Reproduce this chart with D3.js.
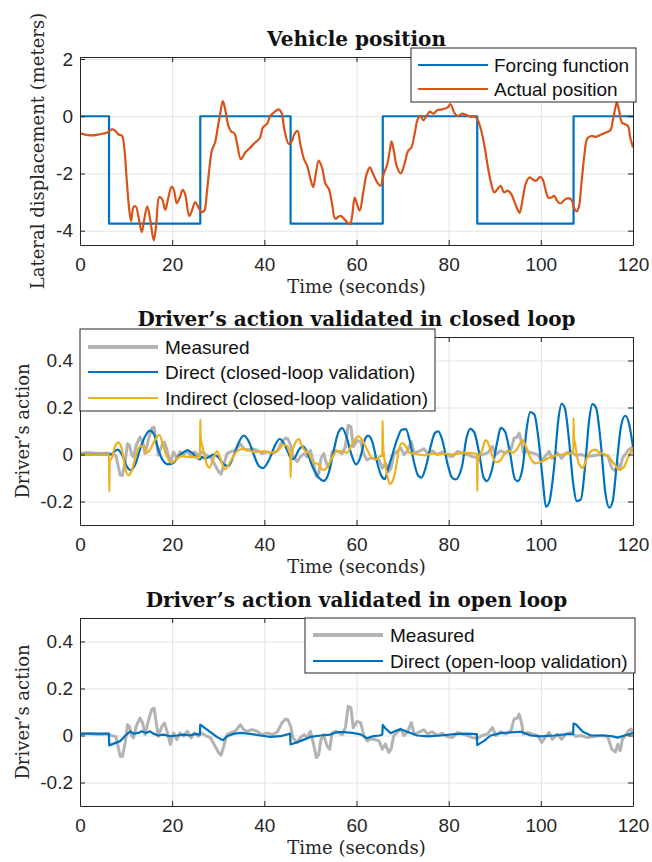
<!DOCTYPE html>
<html lang="en">
<head>
<meta charset="UTF-8">
<title>Vehicle position and driver's action</title>
<style>
  *{margin:0;padding:0;}
  body{background:#fff;}
  svg{display:block;}
  .frame .tick text{font-family:"Liberation Sans",Arial,sans-serif;font-size:19px;fill:#262626;}
  .frame path,.frame line{stroke:#262626;}
  .grid line{stroke:#e2e2e2;}
  .grid path{display:none;}
  .title{font-family:"DejaVu Serif",serif;font-weight:bold;font-size:20px;fill:#111;}
  .label{font-family:"DejaVu Serif",serif;font-size:18px;fill:#262626;}
  .legend text{font-family:"Liberation Sans",Arial,sans-serif;font-size:19px;fill:#111;}
</style>
</head>
<body>
<div id="container"></div>
<script src="https://cdn.jsdelivr.net/npm/d3@7"></script>
<script>
// ---- data ----
var timeTicks = [0, 20, 40, 60, 80, 100, 120]
var posTicks = [-4, -2, 0, 2]
var actionTicks = [-0.2, 0, 0.2, 0.4]

// forcing function (step changes)
var forceT = [0, 6.3, 26.1, 45.7, 65.7, 86.2, 107.1, 120]
var forceV = [0, -3.75, 0, -3.75, 0, -3.75, 0, 0]

// actual lateral position
var posT = [0,2.2,4.3,5.8,6.9,7.6,8.3,9.1,9.6,10.1,10.7,11.1,11.6,12.1,12.7,13.4,13.9,14.6,15.2,16.0,16.5,17.2,17.8,18.5,19.1,19.9,20.4,21.0,21.7,22.3,22.8,23.7,24.3,25.0,25.7,26.4,27.0,27.5,28.1,28.6,29.3,29.9,30.4,31.0,31.5,32.2,32.8,33.5,34.1,34.9,35.9,37.0,38.0,39.0,39.7,40.6,41.3,42.2,43.1,43.7,44.4,45.3,46.0,46.5,47.2,47.8,48.6,49.3,50.0,50.6,51.1,51.8,52.5,53.3,54.0,54.7,55.4,56.5,58.0,58.6,59.1,59.6,60.1,60.7,61.4,62.2,62.9,63.6,64.5,65.2,65.9,66.7,67.2,67.6,68.1,68.8,69.6,70.4,71.2,71.9,72.6,73.3,73.9,74.5,75.2,75.9,76.7,77.5,78.6,79.7,80.4,81.2,81.9,83.0,83.7,84.8,85.5,86.2,86.9,87.7,88.4,89.1,89.9,90.6,91.3,92.0,92.8,93.5,94.2,94.9,95.4,96.0,96.7,97.5,98.2,98.9,99.9,100.4,100.9,101.6,102.3,102.9,103.5,104.2,105.1,105.9,106.7,107.2,107.8,108.3,108.8,109.4,110.1,111.0,111.9,113.0,114.1,115.1,115.6,116.1,116.5,117.0,117.6,118.3,118.9,119.4,120]
var posV = [-0.60,-0.67,-0.63,-0.58,-0.46,-0.50,-0.63,-0.68,-1.09,-2.13,-3.29,-3.66,-3.18,-3.15,-3.52,-4.05,-3.64,-3.15,-3.58,-4.34,-3.87,-2.83,-2.89,-3.27,-2.89,-2.46,-2.60,-3.04,-2.83,-2.57,-2.71,-3.49,-3.29,-3.00,-3.18,-3.35,-3.29,-2.71,-1.79,-1.21,-0.92,-0.39,0.07,0.53,0.24,-0.34,-0.53,-0.60,-0.97,-1.50,-1.26,-1.09,-0.92,-0.77,-0.39,-0.26,0.01,0.15,0.24,0.13,-0.51,-0.97,-0.86,-0.63,-0.51,-0.97,-1.50,-1.73,-2.19,-2.48,-2.08,-1.55,-1.79,-2.37,-2.54,-3.06,-3.58,-3.48,-3.71,-3.77,-3.42,-2.84,-3.07,-3.30,-2.72,-2.02,-1.79,-2.02,-2.31,-2.43,-2.02,-1.67,-1.21,-0.88,-1.21,-1.79,-2.00,-1.67,-1.21,-1.09,-0.63,-0.10,0.01,-0.14,0.01,0.16,0.09,0.21,0.24,0.30,0.42,0.13,0.01,0.09,0.05,-0.02,-0.01,-0.10,-0.40,-0.98,-1.67,-2.26,-2.66,-2.55,-2.43,-2.66,-2.60,-2.70,-2.95,-3.24,-3.38,-2.95,-2.37,-2.14,-2.20,-2.26,-2.12,-2.20,-2.49,-2.84,-2.84,-2.78,-2.95,-3.05,-2.93,-2.86,-2.93,-3.21,-3.33,-3.13,-2.37,-1.44,-0.77,-0.69,-0.72,-0.65,-0.57,-0.49,-0.16,0.24,0.48,0.19,-0.22,-0.28,-0.34,-0.74,-1.09]

// measured driver's action (same record in both lower panels)
var measT = [0,2,4,6,6.8,7.8,8.7,9.2,9.8,10.3,10.7,11.2,11.6,12.2,13.0,13.6,14.1,14.9,15.6,16.1,16.5,17.0,17.8,18.3,18.8,19.6,20.3,21.0,21.7,22.5,23.3,24.1,24.8,25.7,26.4,27.2,28.3,29.1,30.1,30.6,31.2,31.9,32.6,33.7,34.8,35.5,36.2,37.3,38.4,39.5,40.6,41.7,42.8,43.8,44.6,45.1,45.7,46.2,47.1,47.8,48.6,49.3,50.0,50.6,51.3,51.8,52.3,52.9,53.6,54.2,54.7,55.4,56.2,56.9,57.6,58.2,58.8,59.3,60.1,60.9,61.6,62.3,63.0,63.8,64.9,65.6,66.3,67.0,67.5,68.1,68.8,69.6,70.3,71.0,71.9,72.5,73.5,74.6,75.4,76.4,77.5,78.6,79.7,80.8,81.9,83.0,84.1,85.1,86.2,87.3,88.4,89.5,90.2,91.3,92.4,93.5,94.2,94.8,95.3,95.8,96.2,97.1,98.2,99.3,100.2,100.9,101.8,102.5,103.6,104.5,105.4,106.5,107.6,108.7,110.1,111.6,113.0,114.5,115.4,116.2,116.7,117.2,117.7,118.3,119.0,119.6,120]
var measV = [0.005,0.008,0.004,0.006,0,-0.005,-0.087,-0.09,-0.03,0.046,0.04,0,-0.01,0.04,0.074,0.053,0.004,0.067,0.112,0.116,0.06,-0.003,0.04,0.053,0.025,-0.038,0.011,-0.017,0.011,-0.003,0.018,-0.01,0.011,-0.003,0.011,0,-0.01,-0.038,-0.073,-0.084,-0.045,0.004,0.011,0.018,0.046,0.025,0.018,0.025,0.018,0.004,0.011,0.004,0.014,0.053,0.07,0.067,0.04,-0.01,-0.03,-0.01,0.004,-0.01,0.018,-0.03,-0.094,-0.08,-0.017,0.004,-0.045,-0.059,0.011,0.018,0.011,0.004,0.035,0.124,0.118,0.033,0.06,0.055,0,-0.023,-0.016,-0.016,-0.023,-0.058,-0.037,-0.072,-0.058,0,0.013,0.027,0,0.013,0.055,0.006,0.013,0.024,0.006,0.016,0,0.01,-0.004,-0.009,0.013,0.006,0,-0.009,-0.013,0,0.006,0.034,0,0.016,0.006,0.02,0.07,0.072,0.091,0.055,0.006,0.013,0.006,0,-0.03,-0.009,0.013,-0.016,0.006,-0.016,0.006,0.013,-0.004,0,-0.009,-0.004,0,-0.004,-0.058,-0.07,-0.037,-0.065,-0.016,0,0.02,0.027,0.006]

// direct model, closed-loop validation
var directClT = [0,6.3,6.9,8.1,9.1,10.1,10.9,12.0,13.0,14.1,15.2,16.1,17.0,18.1,19.2,20.3,21.4,22.5,23.3,24.3,25.4,26.1,26.4,27.2,28.3,29.0,30.1,31.2,32.2,33.3,34.4,35.5,36.6,37.7,38.8,39.7,40.9,42.4,43.3,44.2,45.2,45.9,46.6,47.5,48.4,49.3,50.4,51.8,52.9,54.0,55.1,56.0,56.9,57.8,58.9,59.9,60.8,61.8,62.5,63.4,64.5,65.4,66.2,66.7,67.7,68.8,69.8,70.7,71.5,72.5,73.4,74.1,75.1,76.1,77.0,77.7,78.6,79.7,80.7,81.5,82.9,83.8,84.7,85.6,86.6,87.6,88.3,89.4,90.5,91.3,92.2,93.3,94.4,95.0,96.1,96.9,97.7,98.6,99.5,100.4,101.1,101.8,102.9,103.8,104.5,105.2,106.1,107.0,107.8,108.7,109.6,110.5,111.2,112.0,113.0,114.0,114.9,115.6,116.5,117.4,118.3,119.2,120]
var directClV = [0,0,0.002,0.021,0,-0.049,-0.066,-0.042,0.021,0.077,0.102,0.084,0.021,-0.028,-0.042,-0.035,-0.007,0.01,0.018,0.007,-0.014,-0.021,-0.01,-0.018,-0.007,0,-0.014,-0.042,-0.049,-0.007,0.049,0.08,0.056,0,-0.049,-0.058,-0.028,0.042,0.066,0.049,0.007,-0.021,-0.014,0.021,0.035,0.01,-0.049,-0.098,-0.112,-0.077,0.021,0.091,0.112,0.077,0,-0.042,-0.014,0.063,0.08,0.056,-0.035,-0.091,-0.105,-0.07,-0.007,0.063,0.105,0.108,0.063,-0.035,-0.091,-0.098,-0.049,0.035,0.091,0.098,0.063,-0.035,-0.098,-0.106,-0.05,0.064,0.109,0.092,0.007,-0.099,-0.113,-0.064,0.05,0.113,0.099,0.007,-0.106,-0.113,-0.05,0.106,0.18,0.17,0.064,-0.106,-0.222,-0.205,-0.05,0.149,0.216,0.198,0.064,-0.12,-0.198,-0.191,-0.05,0.149,0.214,0.198,0.05,-0.163,-0.226,-0.198,-0.035,0.12,0.165,0.127,0.03]

// indirect model, closed-loop validation
var indirectClT = [0,6.3,6.35,6.45,6.9,7.6,8.3,9.1,9.8,10.5,11.2,12.0,13.0,13.8,14.5,15.2,16.3,17.2,18.1,19.0,19.9,21.0,22.1,23.2,24.6,25.7,26.05,26.1,26.2,26.4,27.0,27.5,28.1,29.0,29.7,30.4,31.5,32.5,33.3,34.1,35.5,37.0,38.4,39.9,41.3,43.1,44.2,45.0,45.5,45.65,45.7,45.8,46.7,47.5,48.2,48.9,49.6,50.7,51.8,52.7,53.6,54.7,55.8,56.9,57.9,59.2,60.4,61.2,62.3,63.3,64.1,65.2,65.6,65.65,65.75,66.0,66.5,67.2,67.7,68.5,69.2,69.9,70.7,71.5,72.5,73.5,74.9,76.4,77.9,79.3,80.8,82.0,83.4,85.9,86.15,86.2,86.3,87.3,88.0,88.5,89.5,90.2,91.1,92.0,92.9,93.8,94.8,96.0,96.9,97.9,98.9,100.4,101.8,103.3,104.6,106.1,107.05,107.1,107.2,107.4,107.8,108.3,109.1,109.9,110.9,111.8,112.8,114.0,114.9,116.0,117.0,117.9,118.9,120]
var indirectClV = [0,0,-0.158,-0.03,-0.014,0.035,0.052,0.021,-0.056,-0.088,-0.07,-0.014,0.035,0.035,0.007,0.021,0.063,0.084,0.035,-0.014,-0.035,-0.018,-0.007,-0.01,-0.01,-0.014,-0.014,0.15,0.07,0.049,0,-0.042,-0.056,-0.014,0.014,-0.014,-0.063,-0.035,-0.007,0.014,0.024,0.014,0.01,0.014,0.007,0.021,0.042,0.035,0.007,0.005,-0.098,-0.02,0.049,0.066,0.035,0.014,0.007,-0.035,-0.042,-0.066,-0.056,-0.014,0.014,0.014,0.007,0.049,0.077,0.063,0.021,-0.014,-0.021,-0.007,-0.005,0.144,0.05,-0.01,-0.07,-0.126,-0.119,-0.063,0.021,0.049,0.035,0.007,0.004,0,-0.004,0.004,0,0.004,0,0.004,0.007,0.004,0,-0.156,-0.03,0.021,0.061,0.052,-0.007,-0.033,-0.028,0,0.018,0.007,0.021,0.061,0.028,-0.021,-0.038,-0.028,-0.014,-0.004,0,0.004,0.007,0.156,0.07,0.05,0,-0.042,-0.057,-0.021,0.014,0.021,0.007,0,-0.014,-0.042,-0.064,-0.057,-0.014,0.028]

// direct model, open-loop validation
var directOlT = [0,6.25,6.35,8.7,10.1,10.9,11.6,12.7,13.4,14.3,15.2,15.9,17.0,18.1,19.6,21.0,22.5,23.9,25.0,26.0,26.1,26.4,28.3,29.7,31.0,31.9,33.3,34.8,37.0,39.1,41.3,43.5,45.6,45.7,47.8,50.0,52.2,54.3,55.8,57.2,59.1,60.9,62.3,63.4,65.0,65.6,65.7,66.3,67.4,68.5,69.6,71.0,73.2,75.4,78.3,81.2,84.1,86.1,86.2,87.7,89.1,91.3,93.5,95.7,97.8,100.0,102.9,105.8,107.0,107.1,107.6,109.1,110.9,113.8,115.6,116.7,118.2,120]
var directOlV = [0.008,0.008,-0.042,-0.024,0.004,0.018,0.008,0.011,0.018,0.011,0.018,0.008,0,0.004,-0.003,0,0.004,0,0.007,0.004,0.046,0.042,0.014,-0.006,-0.02,-0.003,0.007,0.011,0.007,0,-0.006,-0.003,0.008,-0.038,-0.024,-0.006,0,0.004,0.014,0.014,0.011,0.005,-0.012,-0.004,0,0.004,0.045,0.03,0.01,0.02,0.027,0.016,0,-0.004,0,0.006,0.008,0.006,-0.041,-0.023,0,0.01,0.013,0.016,0,-0.004,0,0.006,0.006,0.051,0.048,0.016,0,0,-0.004,-0.009,0,0.01]

// ---- layout ----
var W = 652, H = 862
var left = 80, right = 633, plotH = 188
var blue = '#0072BD', orange = '#D95319', yellow = '#EDB120', gray = '#b3b3b3'

var svg = d3.select('#container').append('svg').attr('width', W).attr('height', H)
var x = d3.scaleLinear().domain([0, 120]).range([left, right])

function zip(t, v) { return t.map(function (d, i) { return [d, v[i]] }) }
var fmt = function (d) { return String(d) }

function drawPanel(id, top, yDomain, yTicks, title, ylabel, ylabelX) {
	var y = d3.scaleLinear().domain(yDomain).range([top + plotH, top])
	var g = svg.append('g')

	g.append('g').attr('class', 'grid')
		.attr('transform', 'translate(0,' + (top + plotH) + ')')
		.call(d3.axisBottom(x).tickValues(timeTicks).tickSize(-plotH).tickFormat(''))
	g.append('g').attr('class', 'grid')
		.attr('transform', 'translate(' + left + ',0)')
		.call(d3.axisLeft(y).tickValues(yTicks).tickSize(-(right - left)).tickFormat(''))

	svg.append('clipPath').attr('id', 'clip' + id)
		.append('rect').attr('x', left).attr('y', top).attr('width', right - left).attr('height', plotH)
	var lines = g.append('g').attr('clip-path', 'url(#clip' + id + ')')

	var fr = g.append('g').attr('class', 'frame')
	fr.append('g').attr('transform', 'translate(0,' + (top + plotH) + ')')
		.call(d3.axisBottom(x).tickValues(timeTicks).tickSizeInner(-5).tickSizeOuter(0).tickPadding(13).tickFormat(fmt))
	fr.append('g').attr('transform', 'translate(0,' + top + ')')
		.call(d3.axisTop(x).tickValues(timeTicks).tickSizeInner(-5).tickSizeOuter(0).tickFormat(''))
	fr.append('g').attr('transform', 'translate(' + left + ',0)')
		.call(d3.axisLeft(y).tickValues(yTicks).tickSizeInner(-5).tickSizeOuter(0).tickPadding(7).tickFormat(fmt))
	fr.append('g').attr('transform', 'translate(' + right + ',0)')
		.call(d3.axisRight(y).tickValues(yTicks).tickSizeInner(-5).tickSizeOuter(0).tickFormat(''))

	g.append('text').attr('class', 'title')
		.attr('x', (left + right) / 2).attr('y', top - 11)
		.attr('text-anchor', 'middle').text(title)
	g.append('text').attr('class', 'label')
		.attr('x', (left + right) / 2).attr('y', top + plotH + 48)
		.attr('text-anchor', 'middle').text('Time (seconds)')
	g.append('text').attr('class', 'label')
		.attr('transform', 'translate(' + ylabelX + ',' + (top + plotH / 2) + ') rotate(-90)')
		.attr('text-anchor', 'middle').text(ylabel)

	return { y: y, lines: lines, g: g }
}

function addLine(p, t, v, color, width, curve) {
	var line = d3.line()
		.x(function (d) { return x(d[0]) })
		.y(function (d) { return p.y(d[1]) })
		.curve(curve)
	p.lines.append('path').datum(zip(t, v))
		.attr('d', line)
		.attr('fill', 'none')
		.attr('stroke', color)
		.attr('stroke-width', width)
		.attr('stroke-linejoin', 'round')
}

function addLegend(x0, y0, x1, y1, sx0, sx1, tx, rows) {
	var lg = svg.append('g').attr('class', 'legend')
	lg.append('rect').attr('x', x0).attr('y', y0).attr('width', x1 - x0).attr('height', y1 - y0)
		.attr('fill', '#fff').attr('stroke', '#262626').attr('stroke-width', 1)
	rows.forEach(function (r) {
		lg.append('line').attr('x1', sx0).attr('x2', sx1).attr('y1', r.y).attr('y2', r.y)
			.attr('stroke', r.color).attr('stroke-width', r.width)
		lg.append('text').attr('x', tx).attr('y', r.y + 7).text(r.label)
	})
}

// panel 1
var p1 = drawPanel(1, 57, [-4.5, 2.07], posTicks, 'Vehicle position', 'Lateral displacement (meters)', 44)
addLine(p1, forceT, forceV, blue, 2.2, d3.curveStepAfter)
addLine(p1, posT, posV, orange, 2.2, d3.curveCatmullRom)
addLegend(411, 48, 636, 102, 418, 488, 494, [
	{ label: 'Forcing function', color: blue, width: 2.2, y: 65 },
	{ label: 'Actual position', color: orange, width: 2.2, y: 89 }
])

// panel 2
var p2 = drawPanel(2, 337, [-0.3, 0.5], actionTicks, 'Driver\u2019s action validated in closed loop', 'Driver\u2019s action', 29)
addLine(p2, measT, measV, gray, 3, d3.curveLinear)
addLine(p2, directClT, directClV, blue, 2.2, d3.curveMonotoneX)
addLine(p2, indirectClT, indirectClV, yellow, 2.2, d3.curveMonotoneX)
addLegend(80, 329, 435, 411, 88, 158, 165, [
	{ label: 'Measured', color: gray, width: 4, y: 347 },
	{ label: 'Direct (closed-loop validation)', color: blue, width: 2.2, y: 372 },
	{ label: 'Indirect (closed-loop validation)', color: yellow, width: 2.2, y: 398 }
])

// panel 3
var p3 = drawPanel(3, 618, [-0.3, 0.5], actionTicks, 'Driver\u2019s action validated in open loop', 'Driver\u2019s action', 29)
addLine(p3, measT, measV, gray, 3, d3.curveLinear)
addLine(p3, directOlT, directOlV, blue, 2.2, d3.curveLinear)
addLegend(305, 618, 635, 673, 313, 383, 390, [
	{ label: 'Measured', color: gray, width: 4, y: 635 },
	{ label: 'Direct (open-loop validation)', color: blue, width: 2.2, y: 661 }
])
</script>
</body>
</html>
